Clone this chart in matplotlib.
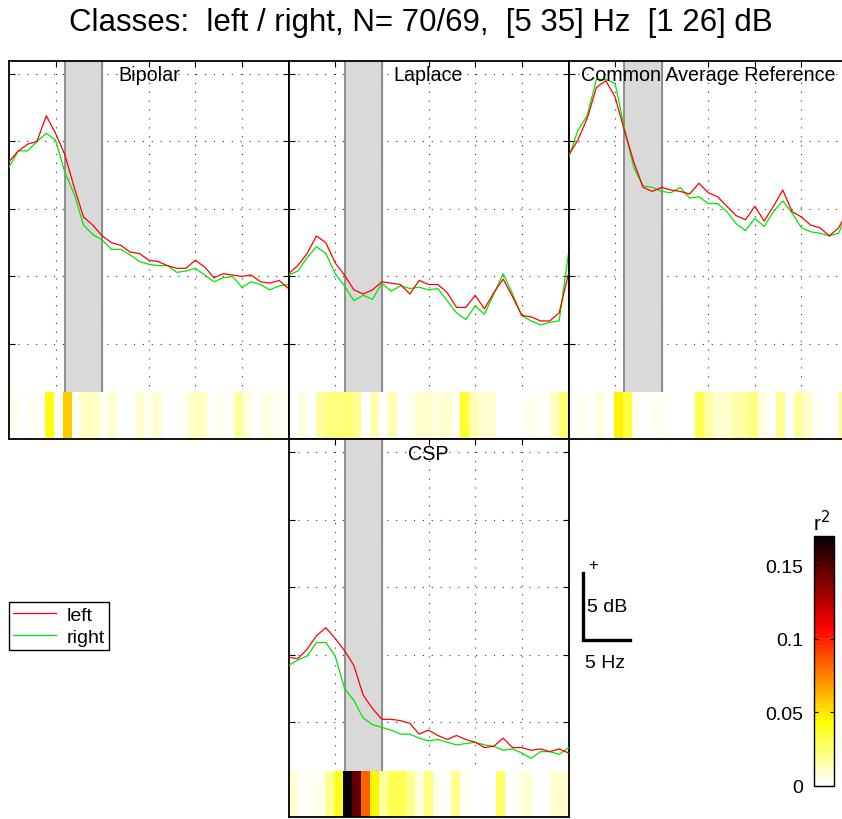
import numpy as np
import matplotlib
matplotlib.use("Agg")
import matplotlib.pyplot as plt

plt.rcParams['font.family'] = ['Liberation Sans', 'DejaVu Sans']

# Spectra (dB) for 5..35 Hz in 1 Hz bins
freq = np.arange(5, 36)

bipolar_left = [18.5, 19.3, 19.8, 20.0, 21.9, 20.6, 19.0, 16.6, 14.4, 13.8, 13.0,
                12.5, 12.3, 11.8, 11.7, 11.2, 11.1, 10.8, 10.6, 10.6, 11.2, 10.7,
                9.9, 10.2, 10.1, 10.0, 10.1, 9.6, 9.5, 9.7, 9.1]
bipolar_right = [18.1, 19.3, 19.3, 20.0, 20.6, 20.1, 17.7, 16.1, 13.8, 13.1, 12.7,
                 12.0, 12.0, 11.6, 11.1, 10.9, 10.8, 10.8, 10.3, 10.4, 10.6, 10.1,
                 9.6, 9.9, 10.0, 9.2, 9.6, 9.4, 9.0, 9.3, 9.4]

laplace_left = [10.2, 10.8, 11.7, 13.0, 12.5, 11.0, 10.1, 9.0, 8.7, 9.0, 9.6,
                9.5, 9.4, 8.7, 9.7, 9.4, 9.4, 8.8, 7.7, 7.7, 8.6, 7.6,
                8.8, 9.8, 8.5, 7.1, 7.0, 6.7, 6.7, 7.3, 10.2]
laplace_right = [10.1, 10.4, 11.4, 12.2, 11.7, 10.2, 9.3, 8.2, 8.6, 8.3, 9.5,
                 8.9, 9.3, 9.1, 9.2, 9.0, 9.1, 8.2, 7.3, 6.8, 7.8, 7.2,
                 8.7, 10.2, 8.7, 7.1, 6.7, 6.4, 6.6, 6.7, 11.7]

car_left = [18.95, 20.1, 21.7, 24.0, 24.5, 23.3, 20.8, 18.5, 16.6, 16.3, 16.6,
            16.4, 16.3, 16.1, 16.9, 16.2, 15.9, 15.2, 14.5, 14.2, 15.2, 14.1,
            15.2, 16.4, 14.8, 14.4, 13.8, 13.6, 13.0, 13.6, 14.9]
car_right = [18.8, 20.8, 21.9, 24.6, 24.6, 24.3, 21.0, 18.1, 16.7, 16.6, 16.3,
             16.2, 16.6, 15.8, 15.9, 15.4, 15.4, 14.8, 13.9, 13.4, 14.3, 13.7,
             14.8, 15.6, 14.7, 13.6, 13.3, 13.2, 13.0, 13.2, 14.9]

csp_left = [9.8, 9.7, 10.4, 11.4, 12.0, 11.2, 10.3, 9.2, 7.0, 6.0, 5.2,
            5.2, 5.1, 4.9, 4.1, 4.4, 4.0, 3.7, 4.0, 3.7, 3.5, 3.1,
            3.2, 3.8, 3.1, 3.1, 2.9, 3.0, 2.8, 3.0, 2.7]
csp_right = [9.2, 9.6, 9.9, 10.9, 10.9, 9.9, 7.5, 6.6, 5.3, 4.8, 4.6,
             4.4, 4.1, 4.1, 3.8, 3.6, 3.7, 3.5, 3.3, 3.4, 3.5, 3.3,
             3.2, 2.9, 3.0, 2.7, 2.3, 2.8, 2.8, 2.6, 3.1]

# r^2 between classes per frequency bin
bipolar_r2 = [0.004, 0, 0.004, 0, 0.040, 0.005, 0.058, 0.004, 0.011, 0.011, 0.005,
              0.009, 0, 0, 0.009, 0.005, 0.008, 0, 0, 0.004, 0.011, 0.011,
              0, 0.004, 0, 0.016, 0.007, 0, 0.006, 0.004, 0.004]
laplace_r2 = [0, 0.006, 0, 0.018, 0.022, 0.022, 0.026, 0.020, 0, 0.015, 0,
              0.015, 0, 0.005, 0.010, 0.009, 0.006, 0.010, 0.005, 0.036, 0.014, 0.010,
              0.010, 0, 0, 0, 0.003, 0.003, 0, 0.012, 0.025]
car_r2 = [0, 0.005, 0, 0.007, 0, 0.046, 0.033, 0.005, 0, 0.005, 0.005,
          0, 0, 0, 0.030, 0.016, 0.009, 0.009, 0.014, 0.016, 0.022, 0.007,
          0, 0.020, 0, 0.016, 0.010, 0.005, 0, 0, 0.020]
csp_r2 = [0.008, 0, 0.005, 0.005, 0.020, 0.038, 0.171, 0.147, 0.083, 0.047, 0.018,
          0.030, 0.030, 0.020, 0.006, 0.022, 0.005, 0, 0.020, 0.004, 0, 0,
          0, 0.027, 0, 0.004, 0.008, 0, 0, 0.008, 0.008]

band = (11, 15)
xlim = (5, 35)
ylim = (-2.05, 26)
strip_top = 1.4
r2_max = 0.17
cmap = plt.get_cmap('hot_r', 64)

W, H = 842, 820


def box(x0, y0, x1, y1):
    return [x0 / W, 1 - y1 / H, (x1 - x0) / W, (y1 - y0) / H]


fig = plt.figure(figsize=(W / 100, H / 100), dpi=100)
fig.text(0.5, 1 - 23 / H, 'Classes:  left / right, N= 70/69,  [5 35] Hz  [1 26] dB',
         ha='center', va='center', fontsize=22.5)


def spec_panel(rect, title, left, right, r2):
    ax = fig.add_axes(rect)
    ax.set_xlim(xlim)
    ax.set_ylim(ylim)
    ax.set_axisbelow(True)
    ax.grid(True, linestyle=(0, (1, 7)), color='0.2', linewidth=0.8)
    ax.set_xticks([10, 15, 20, 25, 30])
    ax.set_yticks([5, 10, 15, 20, 25])
    ax.tick_params(direction='in', length=4, width=0.8, top=True, right=True,
                   labelbottom=False, labelleft=False)
    for s in ax.spines.values():
        s.set_linewidth(1.3)
    # selected band
    ax.fill_between(band, strip_top, ylim[1], color='0.85', zorder=1)
    for b in band:
        ax.plot([b, b], [strip_top, ylim[1]], color='0.5', lw=1.2, zorder=1.1)
    # r^2 strip along the bottom
    edges = np.linspace(xlim[0], xlim[1], len(r2) + 1)
    ax.pcolormesh(edges, [ylim[0], strip_top], np.array(r2)[None, :],
                  cmap=cmap, vmin=0, vmax=r2_max, zorder=1.5)
    l1, = ax.plot(freq, left, color='r', lw=0.9, zorder=3)
    l2, = ax.plot(freq, right, color='#00e600', lw=0.9, zorder=2.9)
    ax.text(20, 24.95, title, ha='center', va='center', fontsize=14.2, zorder=4)
    return ax, l1, l2


spec_panel(box(9, 61.5, 288.5, 440), 'Bipolar', bipolar_left, bipolar_right, bipolar_r2)
spec_panel(box(288.5, 61.5, 568.5, 440), 'Laplace', laplace_left, laplace_right, laplace_r2)
spec_panel(box(568.5, 61.5, 848, 440), 'Common Average Reference', car_left, car_right, car_r2)
ax_csp, h_left, h_right = spec_panel(box(288.5, 440, 568.5, 818), 'CSP',
                                     csp_left, csp_right, csp_r2)

# scale bar: 5 Hz by 5 dB, next to the CSP panel
sx, sy = 36.55, 11.07
ax_csp.plot([sx, sx, sx + 5], [sy + 5, sy, sy], color='k', lw=2.4,
            clip_on=False, solid_joinstyle='miter')
ax_csp.text(37.6, 16.7, '+', ha='center', va='center', fontsize=12)
ax_csp.text(37.0, 13.6, '5 dB', ha='left', va='center', fontsize=14)
ax_csp.text(36.8, 9.44, '5 Hz', ha='left', va='center', fontsize=14)

fig.legend([h_left, h_right], ['left', 'right'], loc='upper left',
           bbox_to_anchor=(9 / W, 1 - 603 / H), borderaxespad=0, fontsize=14,
           frameon=True, fancybox=False, edgecolor='k', framealpha=1,
           handlelength=2.2, handletextpad=0.55, borderpad=0.21, labelspacing=0.22)

cax = fig.add_axes(box(814, 537, 834, 787))
sm = plt.cm.ScalarMappable(cmap=cmap, norm=plt.Normalize(0, r2_max))
cb = fig.colorbar(sm, cax=cax, ticks=[0, 0.05, 0.1, 0.15])
cb.ax.set_yticklabels(['0', '0.05', '0.1', '0.15'])
cb.ax.yaxis.set_ticks_position('both')
cb.ax.tick_params(direction='in', length=3, pad=8, labelleft=True, labelright=False,
                  labelsize=14)
cb.outline.set_linewidth(1.0)
fig.text(822 / W, 1 - 523 / H, 'r$^2$', ha='center', va='center', fontsize=15)

fig.savefig('out.png', dpi=100)
